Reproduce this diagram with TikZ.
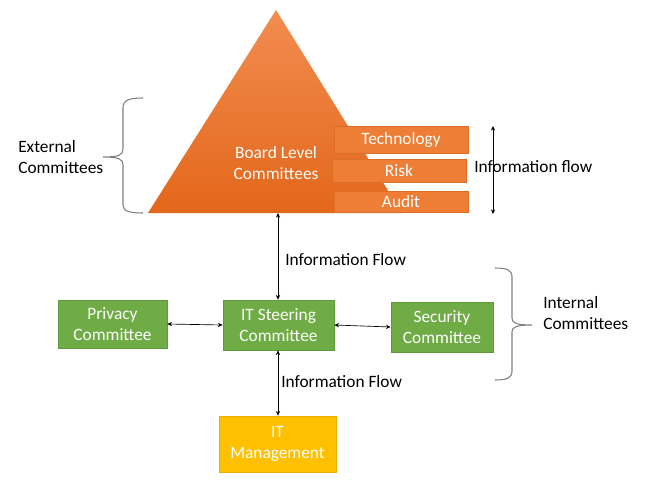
\documentclass[tikz,border=0pt]{standalone}
\usepackage{fontspec}
\setmainfont{Carlito}
\usetikzlibrary{arrows.meta}
\definecolor{triTop}{HTML}{F28C50}
\definecolor{triBot}{HTML}{E3671A}
\definecolor{orFill}{HTML}{EE7E35}
\definecolor{orLine}{HTML}{DD6E28}
\definecolor{grFill}{HTML}{6FAC46}
\definecolor{grLine}{HTML}{5E9A3A}
\definecolor{yeFill}{HTML}{FFC000}
\definecolor{yeLine}{HTML}{E8AE00}
\definecolor{braceGray}{HTML}{808080}
\tikzset{
  every node/.style={font=\fontsize{13}{15.8}\selectfont, inner sep=0pt},
  greenbox/.style={fill=grFill, draw=grLine, line width=0.6pt, text=white, align=center},
  orbox/.style={fill=orFill, draw=orLine, line width=0.6pt, text=white, align=center, minimum width=100.5pt},
  yellowbox/.style={fill=yeFill, draw=yeLine, line width=0.6pt, text=white, align=center},
  flow/.style={{Stealth[length=3.5pt,width=3.2pt]}-{Stealth[length=3.5pt,width=3.2pt]}, line width=0.5pt, black},
  bracestyle/.style={draw=braceGray, line width=0.8pt},
  lbl/.style={text=black, align=left, anchor=west}
}
\begin{document}
\begin{tikzpicture}[x=0.75pt,y=-0.75pt]
\useasboundingbox (0,0) rectangle (647,486);
% pyramid
\shade[top color=triTop, bottom color=triBot] (276,10) -- (402,213) -- (148,213) -- cycle;
\node[text=white, align=center] (board) at (276,163) {Board Level\\Committees};
% sub committees
\node[orbox, minimum height=20.25pt] (tech) at (401,139.5) {Technology};
\node[orbox, minimum height=17.25pt] (risk) at (399,170.5) {Risk};
\node[orbox, minimum height=15.75pt] (audit) at (401,201.5) {Audit};
% right information flow arrow
\coordinate (fa) at (493,126);
\coordinate (fb) at (493,214);
\draw[flow] (fa) -- (fb);
\node[lbl] (infoflow) at (474,167) {Information flow};
% green boxes
\node[greenbox, minimum width=81.75pt, minimum height=36pt] (priv) at (112.5,324) {Privacy\\Committee};
\node[greenbox, minimum width=83.25pt, minimum height=37.5pt] (its) at (278.5,325) {IT Steering\\Committee};
\node[greenbox, minimum width=76.5pt, minimum height=37.5pt] (sec) at (442,327) {Security\\Committee};
\node[yellowbox, minimum width=87.75pt, minimum height=42pt] (itm) at (277.5,444) {IT\\Management};
% connectors
\coordinate (tribase) at (278,213);
\draw[flow] (tribase) -- (its.north -| tribase);
\draw[flow] (priv.east) -- (its.west);
\draw[flow] (its.east) -- (sec.west);
\draw[flow] (its.south -| tribase) -- (itm.north -| tribase);
\node[lbl] (if1) at (285,260) {Information Flow};
\node[lbl] (if2) at (281,382) {Information Flow};
% left brace
\draw[bracestyle] (143,98) .. controls (129,98) and (123,100) .. (123,108) -- (123,149)
  .. controls (123,155) and (119,157) .. (103,157)
  .. controls (119,157) and (123,159) .. (123,165) -- (123,205)
  .. controls (123,211) and (129,213) .. (143,213);
\node[lbl] (ext) at (18,157) {External\\Committees};
% right brace
\draw[bracestyle] (495,268) .. controls (507,268) and (512,270) .. (512,277) -- (512,318)
  .. controls (512,323) and (516,325) .. (532,325)
  .. controls (516,325) and (512,327) .. (512,332) -- (512,371)
  .. controls (512,378) and (507,380) .. (495,380);
\node[lbl] (int) at (543,313) {Internal\\Committees};
\end{tikzpicture}
\end{document}
